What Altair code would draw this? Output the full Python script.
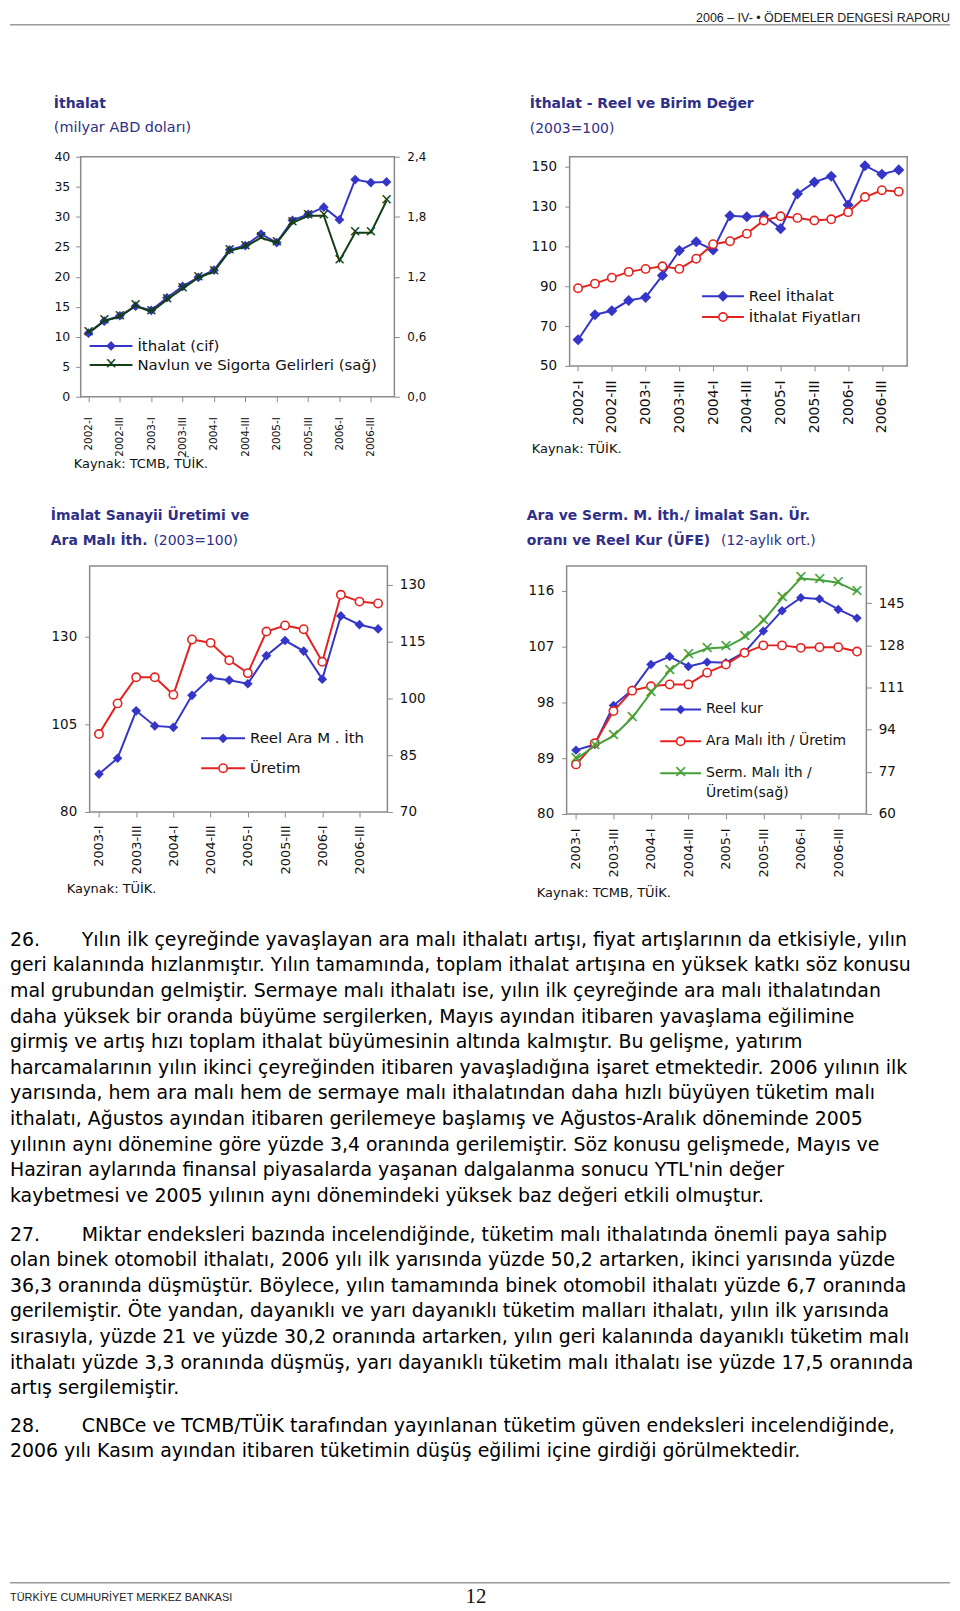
import altair as alt
import pandas as pd

FONT = "DejaVu Sans"
NAVY = "#2F2F88"
BLUE = "#3535C8"
RED = "#E3231F"
DKGREEN = "#123F16"
GREEN = "#45A03A"
FRAME = "#8A8A8A"
INK = "#111111"

# ---------------- data ----------------
Q20 = ["2002-I", "2002-II", "2002-III", "2002-IV",
       "2003-I", "2003-II", "2003-III", "2003-IV",
       "2004-I", "2004-II", "2004-III", "2004-IV",
       "2005-I", "2005-II", "2005-III", "2005-IV",
       "2006-I", "2006-II", "2006-III", "2006-IV"]
Q16 = ["2003-I", "2003-II", "2003-III", "2003-IV",
       "2004-I", "2004-II", "2004-III", "2004-IV",
       "2005-I", "2005-II", "2005-III", "2005-IV",
       "2006-I", "2006-II", "2006-III", "2006-IV"]
LAB20 = ["2002-I", "2002-III", "2003-I", "2003-III", "2004-I", "2004-III",
         "2005-I", "2005-III", "2006-I", "2006-III"]
LAB16 = ["2003-I", "2003-III", "2004-I", "2004-III",
         "2005-I", "2005-III", "2006-I", "2006-III"]

ithalat_cif = [10.6, 12.6, 13.5, 15.1, 14.4, 16.5, 18.4, 19.9, 21.1, 24.5,
               25.2, 27.1, 25.7, 29.4, 30.4, 31.6, 29.5, 36.2, 35.7, 35.8]
navlun_sigorta = [0.64, 0.76, 0.80, 0.91, 0.85, 0.97, 1.08, 1.19, 1.25, 1.46,
                  1.50, 1.59, 1.54, 1.74, 1.81, 1.81, 1.36, 1.64, 1.64, 1.96]

reel_ithalat = [63.1, 75.7, 77.7, 82.8, 84.4, 95.4, 107.9, 112.3, 108.2, 125.4,
                124.9, 125.4, 118.9, 136.4, 142.3, 145.2, 130.8, 150.5, 146.2, 148.4]
ithalat_fiyat = [89.0, 91.3, 94.3, 97.2, 98.7, 100.0, 98.7, 103.8, 111.1, 112.6,
                 116.4, 123.0, 125.1, 124.3, 123.0, 123.6, 127.2, 134.8, 138.2, 137.5]

reel_ara_ith = [90.8, 95.3, 108.8, 104.5, 104.1, 113.2, 118.2, 117.5,
                116.5, 124.5, 128.8, 125.8, 117.8, 135.8, 133.3, 132.1]
uretim = [90.6, 98.7, 105.6, 105.6, 101.0, 115.6, 114.7, 110.1,
          106.7, 117.7, 119.3, 118.3, 109.7, 127.4, 125.6, 125.1]

reel_kur = [90.3, 91.2, 97.5, 100.0, 104.1, 105.4, 103.8, 104.5,
            104.4, 106.1, 109.5, 112.8, 114.9, 114.7, 113.0, 111.6]
ara_mali_uretim = [88.0, 91.4, 96.6, 99.9, 100.6, 100.9, 100.9, 102.8,
                   104.1, 106.0, 107.2, 107.2, 106.8, 106.9, 106.9, 106.2]
serm_mali_uretim = [82.1, 87.4, 91.5, 98.8, 108.9, 117.8, 124.0, 126.7,
                    127.2, 131.2, 137.9, 147.0, 155.0, 154.4, 153.3, 149.7]

ticks1_left = [0, 5, 10, 15, 20, 25, 30, 35, 40]
ticks1_right = [0.0, 0.6, 1.2, 1.8, 2.4]
ticks1_right_labels = ["0,0", "0,6", "1,2", "1,8", "2,4"]
ticks2 = [50, 70, 90, 110, 130, 150]
ticks3_left = [80, 105, 130]
ticks3_right = [70, 85, 100, 115, 130]
ticks4_left = [80, 89, 98, 107, 116]
ticks4_right = [60, 77, 94, 111, 128, 145]

para26 = [
    "Yılın ilk çeyreğinde yavaşlayan ara malı ithalatı artışı, fiyat artışlarının da etkisiyle, yılın",
    "geri kalanında hızlanmıştır. Yılın tamamında, toplam ithalat artışına en yüksek katkı söz konusu",
    "mal grubundan gelmiştir. Sermaye malı ithalatı ise, yılın ilk çeyreğinde ara malı ithalatından",
    "daha yüksek bir oranda büyüme sergilerken, Mayıs ayından itibaren yavaşlama eğilimine",
    "girmiş ve artış hızı toplam ithalat büyümesinin altında kalmıştır. Bu gelişme, yatırım",
    "harcamalarının yılın ikinci çeyreğinden itibaren yavaşladığına işaret etmektedir. 2006 yılının ilk",
    "yarısında, hem ara malı hem de sermaye malı ithalatından daha hızlı büyüyen tüketim malı",
    "ithalatı, Ağustos ayından itibaren gerilemeye başlamış ve Ağustos-Aralık döneminde 2005",
    "yılının aynı dönemine göre yüzde 3,4 oranında gerilemiştir. Söz konusu gelişmede, Mayıs ve",
    "Haziran aylarında finansal piyasalarda yaşanan dalgalanma sonucu YTL'nin değer",
    "kaybetmesi ve 2005 yılının aynı dönemindeki yüksek baz değeri etkili olmuştur.",
]
para27 = [
    "Miktar endeksleri bazında incelendiğinde, tüketim malı ithalatında önemli paya sahip",
    "olan binek otomobil ithalatı, 2006 yılı ilk yarısında yüzde 50,2 artarken, ikinci yarısında yüzde",
    "36,3 oranında düşmüştür. Böylece, yılın tamamında binek otomobil ithalatı yüzde 6,7 oranında",
    "gerilemiştir. Öte yandan, dayanıklı ve yarı dayanıklı tüketim malları ithalatı, yılın ilk yarısında",
    "sırasıyla, yüzde 21 ve yüzde 30,2 oranında artarken, yılın geri kalanında dayanıklı tüketim malı",
    "ithalatı yüzde 3,3 oranında düşmüş, yarı dayanıklı tüketim malı ithalatı ise yüzde 17,5 oranında",
    "artış sergilemiştir.",
]
para28 = [
    "CNBCe ve TCMB/TÜİK tarafından yayınlanan tüketim güven endeksleri incelendiğinde,",
    "2006 yılı Kasım ayından itibaren tüketimin düşüş eğilimi içine girdiği görülmektedir.",
]

ONE = pd.DataFrame({"k": [0]})


# ---------------- helpers ----------------
def T(s, x, y, size=13, bold=False, color=INK, align="left", font=FONT):
    kw = dict(text=s, font=font, fontSize=size, color=color,
              baseline="middle", align=align)
    if bold:
        kw["fontWeight"] = "bold"
    return alt.Chart(ONE).mark_text(**kw).encode(x=alt.value(x), y=alt.value(y))


def box(w, h):
    return alt.Chart(ONE).mark_rect(fillOpacity=0, stroke=FRAME, strokeWidth=1.5).encode(
        x=alt.value(0), x2=alt.value(w), y=alt.value(0), y2=alt.value(h))


def x_enc(cats, labs, pad, fs):
    return alt.X("q:O", sort=cats, scale=alt.Scale(domain=cats),
                 axis=alt.Axis(title=None, labelAngle=270, values=labs,
                               labelFont=FONT, labelFontSize=fs, labelColor=INK,
                               tickSize=5, tickColor=FRAME, domain=False,
                               grid=False, labelPadding=pad))


def y_axis(orient, values, pad, labels=True, fs=13.5):
    return alt.Axis(title=None, orient=orient, values=values, tickSize=5,
                    tickColor=FRAME, domain=False, grid=False, labels=labels,
                    labelFont=FONT, labelFontSize=fs, labelColor=INK,
                    labelPadding=pad)


def marker(chart, kind, color, size):
    if kind == "diamond":
        return chart.mark_point(shape="diamond", filled=True, color=color,
                                size=size, opacity=1)
    if kind == "circle":
        return chart.mark_point(shape="circle", filled=True, fill="white",
                                stroke=color, strokeWidth=1.6, size=size, opacity=1)
    return chart.mark_text(text="×", fontSize=size, color=color,
                           baseline="middle", align="center", dy=-1)


def series(x, cats, vals, domain, axis, color, kind, size, extra=None):
    df = pd.DataFrame({"q": cats, "v": vals})
    ysc = alt.Scale(domain=domain, nice=False, zero=False)
    y = alt.Y("v:Q", scale=ysc, axis=axis)
    line = alt.Chart(df).mark_line(color=color, strokeWidth=2).encode(x=x, y=y)
    pts = marker(alt.Chart(df), kind, color, size).encode(x=x, y=y)
    parts = [line, pts]
    if extra is not None:
        parts.append(extra(y))
    return alt.layer(*parts)


def legend_item(x1, x2, y, color, kind, size, text, tx, fs):
    ln = alt.Chart(ONE).mark_rule(color=color, strokeWidth=2).encode(
        x=alt.value(x1), x2=alt.value(x2), y=alt.value(y))
    pt = marker(alt.Chart(ONE), kind, color, size).encode(
        x=alt.value((x1 + x2) / 2), y=alt.value(y))
    return [ln, pt, T(text, tx, y, fs)]


def spacer(w, h):
    return alt.Chart(ONE).mark_point(opacity=0, size=1).encode(
        x=alt.value(w / 2), y=alt.value(h / 2)).properties(width=w, height=h)


# ---------------- chart 1 ----------------
x1 = x_enc(Q20, LAB20, 15, 10.5)
ax1r = y_axis("right", ticks1_right, 8, labels=False)


def right_labels_1(y):
    d = pd.DataFrame({"v": ticks1_right, "lab": ticks1_right_labels})
    return alt.Chart(d).mark_text(align="left", baseline="middle", font=FONT,
                                  fontSize=12, color=INK).encode(
        x=alt.value(315 + 13), y=y, text="lab:N")


c1 = alt.layer(
    box(315, 241),
    series(x1, Q20, ithalat_cif, [0, 40], y_axis("left", ticks1_left, 6, fs=12.5),
           BLUE, "diamond", 95),
    series(x1, Q20, navlun_sigorta, [0, 2.4], ax1r, DKGREEN, "cross", 20,
           extra=right_labels_1),
    T("İthalat", -27, -53, 14, True, NAVY),
    T("(milyar ABD doları)", -27, -29, 14.5, False, NAVY),
    *legend_item(9, 52, 190, BLUE, "diamond", 95, "İthalat (cif)", 57, 15),
    *legend_item(9, 52, 209, DKGREEN, "cross", 20,
                 "Navlun ve Sigorta Gelirleri (sağ)", 57, 15),
    T("Kaynak: TCMB, TÜİK.", -7, 309, 13),
).resolve_scale(y="independent").properties(width=315, height=241)

# ---------------- chart 2 ----------------
x2 = x_enc(Q20, LAB20, 9, 14)
ax2 = y_axis("left", ticks2, 8)
c2 = alt.layer(
    box(339, 210),
    series(x2, Q20, reel_ithalat, [50, 155], ax2, BLUE, "diamond", 125),
    series(x2, Q20, ithalat_fiyat, [50, 155], ax2, RED, "circle", 70),
    T("İthalat - Reel ve Birim Değer", -40, -53, 14, True, NAVY),
    T("(2003=100)", -40, -28, 14, False, NAVY),
    *legend_item(133, 175, 140, BLUE, "diamond", 125, "Reel İthalat", 180, 15),
    *legend_item(133, 175, 161, RED, "circle", 70, "İthalat Fiyatları", 180, 15),
    T("Kaynak: TÜİK.", -38, 293, 13),
).properties(width=339, height=210)

# ---------------- chart 3 ----------------
x3 = x_enc(Q16, LAB16, 8, 13)
c3 = alt.layer(
    box(299, 247),
    series(x3, Q16, reel_ara_ith, [80, 150], y_axis("left", ticks3_left, 8),
           BLUE, "diamond", 95),
    series(x3, Q16, uretim, [70, 135], y_axis("right", ticks3_right, 7),
           RED, "circle", 70),
    T("İmalat Sanayii Üretimi ve", -39, -50, 14, True, NAVY),
    T("Ara Malı İth.", -39, -25, 14, True, NAVY),
    T("(2003=100)", 64, -25, 14, False, NAVY),
    *legend_item(112, 156, 173, BLUE, "diamond", 95, "Reel Ara M . İth", 161, 15),
    *legend_item(112, 156, 203, RED, "circle", 70, "Üretim", 161, 15),
    T("Kaynak: TÜİK.", -23, 324, 13),
).resolve_scale(y="independent").properties(width=299, height=247)

# ---------------- chart 4 ----------------
x4 = x_enc(Q16, LAB16, 9, 13)
ax4l = y_axis("left", ticks4_left, 8)
left4 = alt.layer(
    series(x4, Q16, reel_kur, [80, 120], ax4l, BLUE, "diamond", 90),
    series(x4, Q16, ara_mali_uretim, [80, 120], ax4l, RED, "circle", 70),
)
c4 = alt.layer(
    box(301, 249),
    left4,
    series(x4, Q16, serm_mali_uretim, [60, 160], y_axis("right", ticks4_right, 7),
           GREEN, "cross", 22),
    T("Ara ve Serm. M. İth./ İmalat San. Ür.", -40, -50, 14, True, NAVY),
    T("oranı ve Reel Kur (ÜFE)", -40, -25, 14, True, NAVY),
    T("(12-aylık ort.)", 155, -25, 14, False, NAVY),
    *legend_item(94, 135, 144, BLUE, "diamond", 90, "Reel kur", 140, 14),
    *legend_item(94, 135, 176, RED, "circle", 70, "Ara Malı İth / Üretim", 140, 14),
    *legend_item(94, 135, 208, GREEN, "cross", 22, "Serm. Malı İth /", 140, 14),
    T("Üretim(sağ)", 140, 228, 14),
    T("Kaynak: TCMB, TÜİK.", -30, 328, 13),
).resolve_scale(y="independent").properties(width=301, height=249)

# ---------------- header / body / footer ----------------
header = alt.layer(
    T("2006 – IV-  •  ÖDEMELER DENGESİ RAPORU", 944, 6, 12.5, align="right",
      font="Liberation Sans", color="#222222"),
    alt.Chart(ONE).mark_rule(color="#9A9A9A", strokeWidth=1.5).encode(
        x=alt.value(0), x2=alt.value(944), y=alt.value(12.5)),
).properties(width=944, height=15)

LH = 25.7
BODY = 19
body_layers = []
for num, para, y0 in (("26.", para26, 33.4), ("27.", para27, 329.4), ("28.", para28, 521.5)):
    body_layers.append(T(num, 0, y0, BODY, color="#000000"))
    for i, line in enumerate(para):
        body_layers.append(T(line, 72 if i == 0 else 0, y0 + i * LH, BODY, color="#000000"))
body = alt.layer(*body_layers).properties(width=944, height=666.4)

footer = alt.layer(
    alt.Chart(ONE).mark_rule(color="#9A9A9A", strokeWidth=1.5).encode(
        x=alt.value(0), x2=alt.value(944), y=alt.value(11)),
    T("TÜRKİYE CUMHURİYET MERKEZ BANKASI", 0, 26, 11, font="Liberation Sans",
      color="#222222"),
    T("12", 468, 25, 21, align="center", font="Liberation Serif", color="#111111"),
).properties(width=944, height=28)

row1 = alt.hconcat(spacer(42, 1), c1, spacer(100.3, 1), c2, spacing=0)
row2 = alt.hconcat(spacer(39.5, 1), c3, spacer(98.1, 1), c4, spacing=0)

chart = alt.vconcat(
    header, spacer(1, 66.4), row1, spacer(1, 34.3), row2, spacer(1, 3), body, footer,
    spacing=0,
).properties(padding=0).configure_view(stroke="transparent")

chart.save("out.html", embed_options={"renderer": "svg", "actions": False})
